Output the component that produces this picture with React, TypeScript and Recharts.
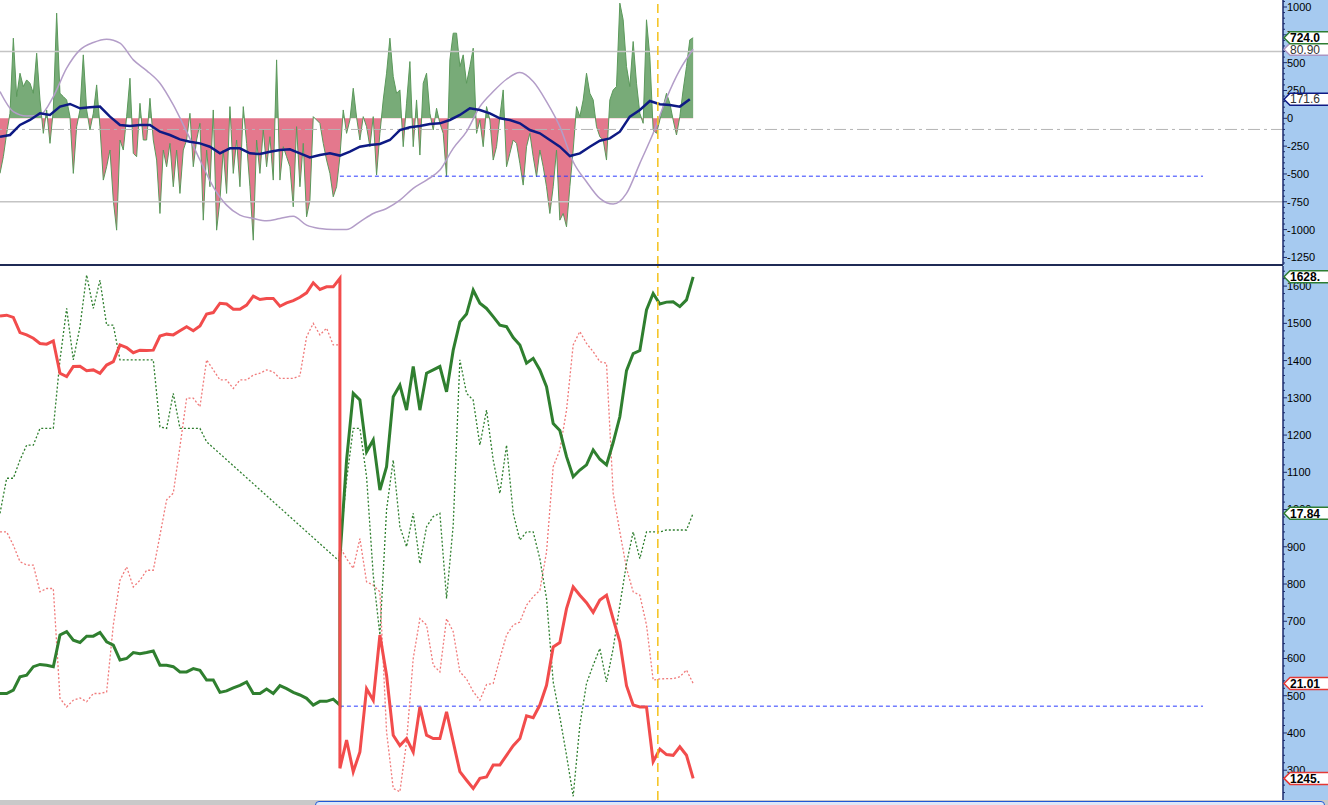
import React from 'react';
import { ComposedChart, Area, Line, XAxis, YAxis, ReferenceLine } from 'recharts';

// upper panel: oscillator (one value per bar), its signal and the slow cycle line
const histVals = [
  -495, -345, -135, 45, 720, 195, 405, 285, 345, 315,
  225, 585, 165, -135, 75, -225, 75, 945, 225, 195,
  165, 15, -495, -75, 75, 570, 75, -105, 45, 300,
  -75, -555, -435, -285, -735, -1005, -195, -285, 15, 360,
  -315, -345, 135, -195, -195, 180, -195, -375, -855, -285,
  -435, -225, -615, -285, -675, -285, -195, 45, -435, -195,
  -45, -915, -285, -615, 75, -1005, -735, -285, -675, 105,
  -495, -195, -615, 105, -225, -615, -1095, -195, -495, -105,
  -435, -165, -555, 525, -555, -255, -345, -435, -795, -75,
  -615, -225, -885, -735, 15, -15, -45, -225, -375, -495,
  -705, -615,
  -345, 75, -135, -15, 270, 10, -195, 15, -75, -255,
  15, -510, -135, 165, 405, 720, 375, 225, 255, -255,
  135, 510, -255, 165, -330, 315, 405, 45, -105, 90,
  -45, -135, -525, 525, 765, 765, 465, 570, 315, 465,
  630, -135, -15, -255, 105, -15, -375, -255, 15, 255,
  -435, -315, -195, -225, -405, -600, -255, -135, -345, -525,
  -285, -435, -615, -855, -615, -285, -915, -855, -975, -615,
  -285, 105, 15, 165, 405, 225, 165, -75, -165, -195,
  -375, 165, 255, 285, 1035, 885, 465, 285, 690, 315,
  45, -45, 885, 555, -105, -135, -15, 105, 225, 135,
  -15, -150, 15, 255, 465, 705, 724,
];

// every 3 bars
const navyVals = [
  -165, -150, -60, -15, 45, 30, 105, 129, 90, 99,
  105, 15, -60, -69, -60, -60, -120, -150, -189, -210,
  -225, -255, -315, -270, -270, -315, -321, -300, -285, -279,
  -315, -351, -330, -315, -335, -300, -255, -240, -231, -195,
  -105, -81, -69, -51, -45, -15, 30, 90, 75, 45,
  0, -15, -45, -105, -135, -195, -255, -339, -315, -255,
  -201, -180, -120, 15, 75, 156, 126, 120, 105, 172,
];

// every 4 bars
const purpleVals = [
  240, 60, 21, 30, 195, 450, 615, 681, 711, 675,
  525, 429, 315, 120, -120, -375, -615, -780, -870, -900,
  -921, -900, -879, -960, -990, -999, -999, -930, -855, -810,
  -735, -630, -555, -465, -270, -120, 105, 240, 351, 411,
  330, 150, -75, -390, -570, -720, -771, -675, -405, -135,
  180, 435, 620,
];

// lower panel, every 2 bars; "Before" runs bar 0..102, "After" runs bar 102..208
const redThickBefore = [
  1520, 1522, 1516, 1475, 1469, 1460, 1446, 1444, 1453, 1366,
  1357, 1384, 1385, 1373, 1375, 1366, 1388, 1397, 1442, 1435,
  1421, 1428, 1427, 1428, 1466, 1471, 1469, 1480, 1491, 1480,
  1493, 1525, 1529, 1554, 1552, 1538, 1538, 1549, 1573, 1564,
  1567, 1567, 1546, 1555, 1561, 1570, 1582, 1609, 1591, 1598,
  1598, 1621,
];
const redThickAfter = [
  305, 381, 296, 349, 519, 488, 663, 555, 394, 366,
  385, 349, 470, 394, 385, 385, 457, 376, 296, 273,
  251, 278, 282, 314, 314, 340, 366, 385, 446, 441,
  475, 528, 631, 643, 734, 792, 770, 750, 724, 757,
  770, 706, 645, 527, 475, 470, 470, 323, 357, 342,
  340, 363, 340, 278,
];
const greenThickBefore = [
  506, 506, 515, 551, 555, 578, 584, 582, 578, 663,
  672, 649, 643, 660, 660, 670, 645, 636, 596, 600,
  616, 613, 616, 620, 582, 582, 578, 564, 564, 573,
  568, 542, 542, 509, 513, 521, 528, 537, 506, 506,
  518, 506, 527, 519, 509, 502, 493, 475, 485, 485,
  491, 475,
];
const greenThickAfter = [
  870, 1133, 1312, 1294, 1155, 1187, 1052, 1115, 1303, 1334,
  1267, 1384, 1267, 1366, 1375, 1384, 1316, 1428, 1504, 1525,
  1589, 1554, 1540, 1518, 1495, 1491, 1462, 1442, 1393, 1406,
  1375, 1330, 1231, 1212, 1142, 1088, 1106, 1120, 1160, 1135,
  1120, 1180, 1249, 1373, 1419, 1427, 1536, 1580, 1552, 1557,
  1558, 1545, 1563, 1625,
];
const greenDotBefore = [
  990, 1084, 1084, 1133, 1173, 1173, 1218, 1218, 1218, 1402,
  1540, 1402, 1491, 1630, 1540, 1616, 1495, 1495, 1402, 1402,
  1402, 1402, 1402, 1402, 1222, 1218, 1312, 1218, 1218, 1218,
  1218, 1182, null, null, null, null, null, null, null, null,
  null, null, null, null, null, null, null, null, null, null,
  null, 860,
];
const greenDotAfter = [
  900, 1079, 1218, 1218, 1088, 824, 663, 1000, 1133, 954,
  900, 990, 855, 954, 981, 990, 761, 958, 1402, 1312,
  1294, 1173, 1267, 1133, 1043, 1173, 990, 918, 940, 940,
  868, 761, 537, 443, 340, 230, 421, 533, 582, 627,
  537, 627, 743, 855, 940, 868, 940, 940, 940, 945,
  945, 945, 945, 990,
];
const redDotBefore = [
  940, 940, 904, 860, 851, 851, 779, 788, 788, 493,
  470, 488, 494, 484, 506, 506, 510, 690, 810, 846,
  792, 810, 837, 837, 931, 1026, 1044, 1169, 1299, 1299,
  1276, 1402, 1375, 1348, 1348, 1325, 1348, 1348, 1361, 1366,
  1375, 1370, 1352, 1352, 1352, 1359, 1464, 1500, 1469, 1487,
  1442, 1442,
];
const redDotAfter = [
  900, 868, 842, 922, 806, 797, 779, 403, 251, 242,
  376, 600, 707, 690, 582, 564, 707, 672, 564, 545,
  511, 488, 530, 533, 600, 663, 690, 698, 743, 766,
  783, 886, 1115, 1160, 1267, 1442, 1478, 1446, 1424, 1397,
  1393, 1044, 940, 842, 779, 770, 690, 542, 545, 546,
  546, 551, 569, 533,
];

const topMajorTicks = [-1250, -1000, -750, -500, -250, 0, 250, 500, 750, 1000];
const bottomMajorTicks = [300, 400, 500, 600, 700, 800, 900, 1000, 1100, 1200, 1300, 1400, 1500, 1600];

const X_DOMAIN: [number, number] = [0, 385];
const TOP_DOMAIN: [number, number] = [-1318, 1063];
const BOTTOM_DOMAIN: [number, number] = [220, 1654];
const SPLIT_BAR = 102;
const NOW_BAR = 197.4;
const LEVEL_END_BAR = 361;
const TOP_LEVEL = -520;
const BOTTOM_LEVEL = 472;

const rows = (vals: (number | null)[], start: number, step: number) =>
  vals.map((v, i) => ({ x: start + i * step, v }));

const histRows = rows(histVals, 0, 1);
const navyRows = rows(navyVals, 0, 3);
const purpleRows = rows(purpleVals, 0, 4);
const redThick = [...rows(redThickBefore, 0, 2), ...rows(redThickAfter, SPLIT_BAR, 2)];
const greenThick = [...rows(greenThickBefore, 0, 2), ...rows(greenThickAfter, SPLIT_BAR, 2)];
const greenDot = [...rows(greenDotBefore, 0, 2), ...rows(greenDotAfter, SPLIT_BAR, 2)];
const redDot = [...rows(redDotBefore, 0, 2), ...rows(redDotAfter, SPLIT_BAR, 2)];

const last = (a: number[]) => a[a.length - 1];

// price tags on the axis, drawn after the ticks so they sit on top
const topTags = [
  { value: last(purpleVals), text: '80.90', color: '#a996c4', bold: false },
  { value: last(histVals), text: '724.0', color: '#2e7d32', bold: true },
  { value: last(navyVals), text: '171.6', color: '#0e1a84', bold: false },
];
const bottomTags = [
  { value: last(greenThickAfter), text: '1628.', color: '#2e7d32', bold: true },
  { value: last(greenDotAfter), text: '17.84', color: '#2e7d32', bold: true },
  { value: last(redDotAfter), text: '21.01', color: '#e53935', bold: true },
  { value: last(redThickAfter), text: '1245.', color: '#e53935', bold: true },
];

const minorTicks = (from: number, to: number, step: number) =>
  Array.from({ length: Math.floor((to - from) / step) + 1 }, (_, i) => from + i * step);

const topTicks = minorTicks(-1300, 1050, 50);
const bottomTicks = minorTicks(240, 1640, 20);

const zeroOffset = TOP_DOMAIN[1] / (TOP_DOMAIN[1] - TOP_DOMAIN[0]);

const FONT = '"Liberation Sans", Arial, sans-serif';

const AxisTick = ({ x, y, payload, index, majors, base, tags }: any) => {
  if (index >= base) {
    const tag = tags[index - base];
    const x0 = x + 1;
    return (
      <g>
        <path
          d={`M${x0},${y} L${x0 + 6},${y - 6} L${x0 + 60},${y - 6} L${x0 + 60},${y + 6} L${x0 + 6},${y + 6} Z`}
          fill="#fff"
          stroke={tag.color}
          strokeWidth={1.5}
        />
        <text
          x={x0 + 6}
          y={y}
          dy="0.36em"
          fontSize={12}
          fontWeight={tag.bold ? 700 : 400}
          fontFamily={FONT}
          fill={tag.bold ? '#000' : '#333'}
        >
          {tag.text}
        </text>
      </g>
    );
  }
  const major = majors.includes(payload.value);
  return (
    <g>
      <line x1={x} x2={x + (major ? 4 : 2)} y1={y} y2={y} stroke="#1a2a6c" strokeWidth={1} />
      {major && (
        <text x={x + 4} y={y} dy="0.36em" fontSize={11} fontFamily={FONT} fill="#000" textAnchor="start">
          {payload.value}
        </text>
      )}
    </g>
  );
};

export default function App() {
  return (
    <div
      style={{
        position: 'absolute',
        left: 0,
        top: 0,
        width: 1328,
        height: 805,
        background: '#fff',
        overflow: 'hidden',
        fontFamily: FONT,
      }}
    >
      <div style={{ position: 'absolute', left: 1283, top: 0, width: 45, height: 800, background: '#a6caf0' }} />

      <div style={{ position: 'absolute', left: 0, top: 0 }}>
        <ComposedChart width={1328} height={265} data={histRows} margin={{ top: 0, right: 0, bottom: 0, left: 0 }}>
          <defs>
            <linearGradient id="histFill" gradientUnits="userSpaceOnUse" x1="0" y1="0" x2="0" y2="265">
              <stop offset={zeroOffset} stopColor="#78ab78" />
              <stop offset={zeroOffset} stopColor="#e4788d" />
            </linearGradient>
          </defs>
          <XAxis type="number" dataKey="x" domain={X_DOMAIN} hide allowDataOverflow />
          <YAxis
            orientation="right"
            width={45}
            domain={TOP_DOMAIN}
            allowDataOverflow
            ticks={[...topTicks, ...topTags.map((t) => t.value)]}
            interval={0}
            tickSize={0}
            tickMargin={0}
            tickLine={false}
            axisLine={{ stroke: '#1a2a6c', strokeWidth: 1.5 }}
            tick={(p: any) => <AxisTick {...p} majors={topMajorTicks} base={topTicks.length} tags={topTags} />}
          />
          <ReferenceLine y={600} stroke="#c4c4c4" strokeWidth={1.5} />
          <ReferenceLine y={-750} stroke="#c4c4c4" strokeWidth={1.5} />
          <ReferenceLine y={-100} stroke="#b4b4b4" strokeWidth={1} strokeDasharray="12 4 3 4" />
          <ReferenceLine
            segment={[{ x: SPLIT_BAR, y: TOP_LEVEL }, { x: LEVEL_END_BAR, y: TOP_LEVEL }]}
            stroke="#2b3bff"
            strokeDasharray="4 3"
          />
          <Area
            type="linear"
            dataKey="v"
            baseValue={0}
            stroke="#5b995b"
            strokeWidth={1}
            fill="url(#histFill)"
            fillOpacity={1}
            dot={false}
            activeDot={false}
            isAnimationActive={false}
          />
          <Line data={purpleRows} type="monotone" dataKey="v" stroke="#b39dc8" strokeWidth={1.5} dot={false} activeDot={false} isAnimationActive={false} />
          <Line data={navyRows} type="linear" dataKey="v" stroke="#0e1a84" strokeWidth={2.5} dot={false} activeDot={false} isAnimationActive={false} />
          <ReferenceLine x={NOW_BAR} stroke="#f5c21b" strokeWidth={1.5} strokeDasharray="9 5" />
        </ComposedChart>
      </div>

      <div style={{ position: 'absolute', left: 0, top: 264, width: 1283, height: 2, background: '#1f2a55' }} />

      <div style={{ position: 'absolute', left: 0, top: 266 }}>
        <ComposedChart width={1328} height={534} margin={{ top: 0, right: 0, bottom: 0, left: 0 }}>
          <XAxis type="number" dataKey="x" domain={X_DOMAIN} hide allowDataOverflow />
          <YAxis
            orientation="right"
            width={45}
            domain={BOTTOM_DOMAIN}
            allowDataOverflow
            ticks={[...bottomTicks, ...bottomTags.map((t) => t.value)]}
            interval={0}
            tickSize={0}
            tickMargin={0}
            tickLine={false}
            axisLine={{ stroke: '#1a2a6c', strokeWidth: 1.5 }}
            tick={(p: any) => <AxisTick {...p} majors={bottomMajorTicks} base={bottomTicks.length} tags={bottomTags} />}
          />
          <ReferenceLine
            segment={[{ x: SPLIT_BAR, y: BOTTOM_LEVEL }, { x: LEVEL_END_BAR, y: BOTTOM_LEVEL }]}
            stroke="#2b3bff"
            strokeDasharray="4 3"
          />
          <Line data={redDot} type="linear" dataKey="v" stroke="#f07a7a" strokeWidth={1.3} strokeDasharray="2 2" dot={false} activeDot={false} isAnimationActive={false} />
          <Line data={greenDot} type="linear" dataKey="v" stroke="#2f7f2f" strokeWidth={1.3} strokeDasharray="2 2" dot={false} activeDot={false} connectNulls isAnimationActive={false} />
          <Line data={greenThick} type="linear" dataKey="v" stroke="#2f7f2f" strokeWidth={3} dot={false} activeDot={false} isAnimationActive={false} />
          <Line data={redThick} type="linear" dataKey="v" stroke="#f24c4c" strokeWidth={3} dot={false} activeDot={false} isAnimationActive={false} />
          <ReferenceLine x={NOW_BAR} stroke="#f5c21b" strokeWidth={1.5} strokeDasharray="9 5" />
        </ComposedChart>
      </div>

      <div style={{ position: 'absolute', left: 0, top: 800, width: 1328, height: 5, background: '#c9c9c9' }} />
      <div
        style={{
          position: 'absolute',
          left: 315,
          top: 801,
          width: 1008,
          height: 8,
          border: '1.5px solid #1f57d6',
          borderRadius: 4,
          background: '#dde7f7',
        }}
      />
    </div>
  );
}
